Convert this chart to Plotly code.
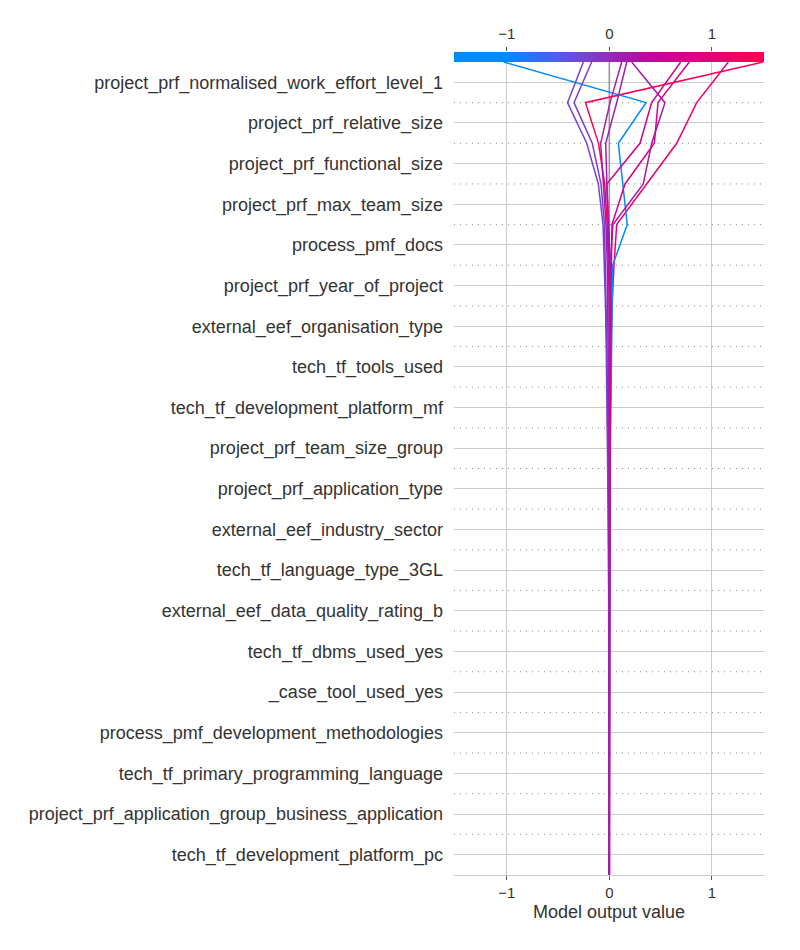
import numpy as np
import plotly.graph_objects as go
from plotly.colors import sample_colorscale

# ---------------- data ----------------
features = [
    "project_prf_normalised_work_effort_level_1",
    "project_prf_relative_size",
    "project_prf_functional_size",
    "project_prf_max_team_size",
    "process_pmf_docs",
    "project_prf_year_of_project",
    "external_eef_organisation_type",
    "tech_tf_tools_used",
    "tech_tf_development_platform_mf",
    "project_prf_team_size_group",
    "project_prf_application_type",
    "external_eef_industry_sector",
    "tech_tf_language_type_3GL",
    "external_eef_data_quality_rating_b",
    "tech_tf_dbms_used_yes",
    "_case_tool_used_yes",
    "process_pmf_development_methodologies",
    "tech_tf_primary_programming_language",
    "project_prf_application_group_business_application",
    "tech_tf_development_platform_pc",
]

base_value = 0.0

# cumulative model output at each feature boundary, from top (final output) to bottom (base value)
path_1 = [-1.030, 0.358, 0.088, 0.131, 0.175, 0.033, 0.027, 0.019, 0.014, 0.010, 0.008, 0.006, 0.004, 0.003, 0.002, 0.001, 0.001, 0.0, 0.0, 0.0, 0.0]
path_2 = [-0.253, -0.407, -0.220, -0.107, -0.061, -0.047, -0.037, -0.030, -0.024, -0.019, -0.015, -0.011, -0.008, -0.006, -0.004, -0.003, -0.002, -0.001, 0.0, 0.0, 0.0]
path_3 = [-0.172, -0.344, -0.166, -0.081, -0.047, -0.037, -0.029, -0.024, -0.019, -0.015, -0.012, -0.009, -0.007, -0.005, -0.003, -0.002, -0.001, -0.001, 0.0, 0.0, 0.0]
path_4 = [0.121, 0.007, -0.084, -0.057, -0.032, -0.020, -0.014, -0.010, -0.008, -0.006, -0.004, -0.003, -0.002, -0.001, -0.001, 0.0, 0.0, 0.0, 0.0, 0.0, 0.0]
path_5 = [0.170, 0.072, -0.035, -0.022, -0.012, -0.004, 0.003, 0.005, 0.004, 0.003, 0.003, 0.002, 0.002, 0.001, 0.001, 0.001, 0.0, 0.0, 0.0, 0.0, 0.0]
path_6 = [0.218, 0.543, 0.413, 0.331, 0.035, 0.010, 0.000, -0.004, -0.005, -0.004, -0.003, -0.003, -0.002, -0.002, -0.001, -0.001, 0.0, 0.0, 0.0, 0.0, 0.0]
path_7 = [0.696, 0.413, 0.299, -0.025, -0.005, 0.008, 0.012, 0.010, 0.008, 0.006, 0.005, 0.004, 0.003, 0.002, 0.001, 0.001, 0.0, 0.0, 0.0, 0.0, 0.0]
path_8 = [0.780, 0.475, 0.439, 0.153, 0.026, 0.018, 0.015, 0.012, 0.009, 0.007, 0.005, 0.004, 0.003, 0.002, 0.001, 0.001, 0.0, 0.0, 0.0, 0.0, 0.0]
path_9 = [1.160, 0.852, 0.657, 0.365, 0.072, 0.046, 0.026, 0.016, 0.011, 0.008, 0.006, 0.004, 0.003, 0.002, 0.001, 0.001, 0.0, 0.0, 0.0, 0.0, 0.0]
path_10 = [1.500, -0.232, -0.105, -0.045, -0.020, -0.008, 0.002, 0.006, 0.005, 0.004, 0.003, 0.002, 0.001, 0.001, 0.0, 0.0, 0.0, 0.0, 0.0, 0.0, 0.0]

# drawing order (last drawn ends up on top)
paths = [path_10, path_9, path_1, path_8, path_7, path_2, path_3, path_6, path_5, path_4]

x_range = [-1.5136, 1.5078]
tick_vals = [-1, 0, 1]
tick_text = ["\u22121", "0", "1"]

# ---------------- styling ----------------
red_blue = [
    [0.0, "rgb(0,139,251)"],
    [0.10, "rgb(36,118,245)"],
    [0.25, "rgb(99,82,222)"],
    [0.40, "rgb(145,45,190)"],
    [0.50, "rgb(172,20,168)"],
    [0.60, "rgb(195,5,152)"],
    [0.75, "rgb(222,0,128)"],
    [0.90, "rgb(243,0,100)"],
    [1.0, "rgb(255,0,81)"],
]
text_color = "#333333"
font_family = "Liberation Sans, Arial, sans-serif"

n_feat = len(features)
y_nodes = list(range(n_feat + 1))
finals = [p[0] for p in paths]
vmin, vmax = min(finals), max(finals)

fig = go.Figure()

# base value line
fig.add_trace(go.Scatter(x=[base_value, base_value], y=[0, n_feat], mode="lines",
                         line=dict(color="#999999", width=1.6), hoverinfo="skip",
                         showlegend=False, xaxis="x", yaxis="y"))

for p in paths:
    t = (p[0] - vmin) / (vmax - vmin)
    col = sample_colorscale(red_blue, [t])[0]
    fig.add_trace(go.Scatter(x=p, y=y_nodes, mode="lines",
                             line=dict(color=col, width=1.5),
                             showlegend=False, hoverinfo="skip",
                             xaxis="x", yaxis="y"))

# colour bar drawn across the top, sharing the output scale
cb_x = np.linspace(x_range[0], x_range[1], 400)
fig.add_trace(go.Heatmap(x=cb_x, y=[0, 1], z=[cb_x, cb_x], zmin=vmin, zmax=vmax,
                         colorscale=red_blue, showscale=False, hoverinfo="skip",
                         xaxis="x2", yaxis="y2"))

shapes = []
for k in range(1, n_feat):
    shapes.append(dict(type="line", xref="x domain", yref="y", x0=0, x1=1, y0=k, y1=k,
                       line=dict(color="#888888", width=1, dash="1px,5px"), layer="below"))

plot_h = 950 - 52 - 75
main_top = (875 - 62) / plot_h

fig.update_layout(
    width=800, height=950,
    margin=dict(l=454, r=36, t=52, b=75),
    paper_bgcolor="white", plot_bgcolor="white",
    font=dict(family=font_family, color=text_color),
    shapes=shapes,
    xaxis=dict(domain=[0, 1], anchor="y", range=x_range, tickvals=tick_vals, ticktext=tick_text,
               ticks="outside", ticklen=4, tickcolor="#555555", tickfont=dict(size=15, color=text_color),
               showgrid=True, gridcolor="#cccccc", gridwidth=1, zeroline=False,
               showline=True, linecolor="#cccccc", linewidth=1,
               title=dict(text="Model output value", font=dict(size=18, color=text_color), standoff=5)),
    yaxis=dict(domain=[0, main_top], anchor="x", range=[n_feat, 0],
               tickvals=[k + 0.5 for k in range(n_feat)], ticktext=features,
               tickfont=dict(size=18, color=text_color), ticks="", ticklabelstandoff=10,
               showgrid=True, gridcolor="#cccccc", gridwidth=1, zeroline=False, showline=False),
    xaxis2=dict(domain=[0, 1], anchor="y2", side="top", range=x_range, tickvals=tick_vals,
                ticktext=tick_text, ticks="outside", ticklen=4, tickcolor="#555555",
                tickfont=dict(size=15, color=text_color), ticklabelstandoff=2,
                showgrid=False, zeroline=False, showline=False),
    yaxis2=dict(domain=[main_top, 1], anchor="x2", range=[0, 1], visible=False),
)

fig.write_html("out.html")
